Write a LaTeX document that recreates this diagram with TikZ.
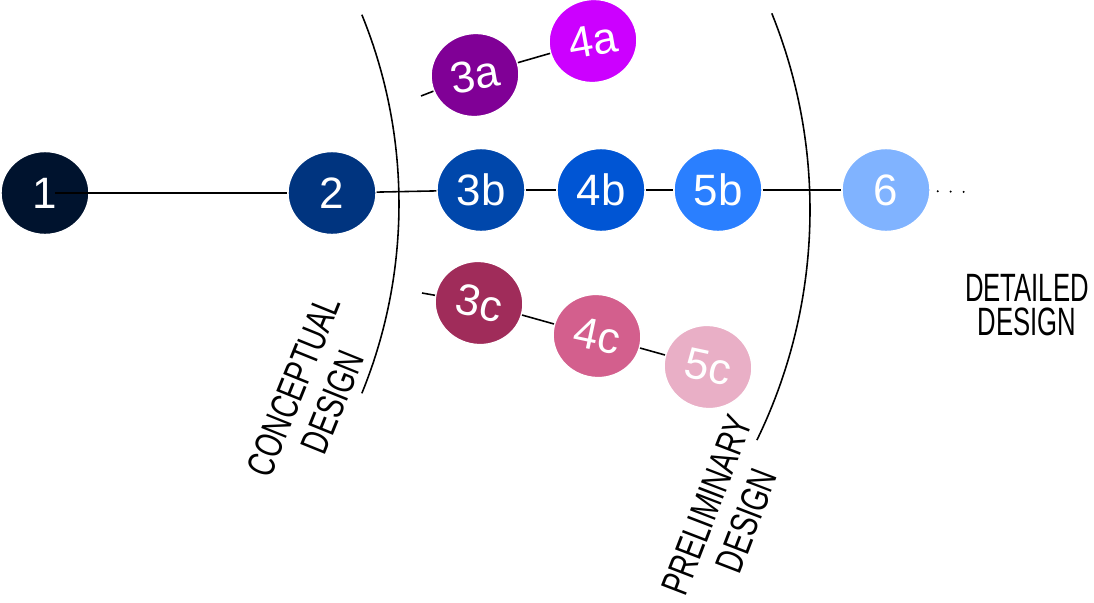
\documentclass[tikz,border=0pt]{standalone}
\usepackage{fontspec}
\setmainfont{Liberation Sans}
\usetikzlibrary{shapes.geometric}
\definecolor{s1}{RGB}{0,19,46}
\definecolor{s2}{RGB}{0,52,127}
\definecolor{s3b}{RGB}{0,71,171}
\definecolor{s4b}{RGB}{0,85,212}
\definecolor{s5b}{RGB}{42,127,255}
\definecolor{s6}{RGB}{128,179,255}
\definecolor{s3a}{RGB}{128,0,150}
\definecolor{s4a}{RGB}{204,0,255}
\definecolor{s3c}{RGB}{160,44,90}
\definecolor{s4c}{RGB}{211,95,141}
\definecolor{s5c}{RGB}{233,175,198}
\tikzset{
  stage/.style={ellipse, draw=white, line width=0.8pt, minimum width=1.76cm,
    minimum height=1.66cm, inner sep=0pt, text=white, font=\fontsize{25}{28}\selectfont},
  link/.style={draw, line width=0.9pt},
  phase/.style={align=center, font=\fontsize{22}{24}\selectfont},
  more/.style={draw, line width=1.3pt, line cap=round, dash pattern=on 0pt off 0.26cm, shorten <=0.14cm},
}
\begin{document}
\begin{tikzpicture}[x=0.02cm, y=-0.02cm]
\useasboundingbox (0,0) rectangle (1094,602);
% phase borders
\draw[line width=0.9pt] ([shift={(-22.2:501)}]-102,204) arc[start angle=-22.2, end angle=22.2, radius=501];
\draw[line width=0.9pt] ([shift={(-22:525)}]285,210) arc[start angle=-22, end angle=26, radius=525];
% stages
\node[stage, fill=s1] (1) at (45,193) {1};
\node[stage, fill=s2] (2) at (332,193) {2};
\node[stage, fill=s3b] (3b) at (481,190) {3b};
\node[stage, fill=s4b] (4b) at (601,190) {4b};
\node[stage, fill=s5b] (5b) at (718,190) {5b};
\node[stage, fill=s6] (6) at (886,190) {6};
\node[stage, fill=s3a, rotate=10] (3a) at (475,75) {3a};
\node[stage, fill=s4a, rotate=10] (4a) at (593,41) {4a};
\node[stage, fill=s3c, rotate=-12] (3c) at (479,303) {3c};
\node[stage, fill=s4c, rotate=-12] (4c) at (597,336) {4c};
\node[stage, fill=s5c, rotate=-12] (5c) at (708,367) {5c};
\coordinate (3astub) at (421,96);
\coordinate (3cstub) at (422,293);
\coordinate (dotsend) at (967,192);
% links
\path[link] ([xshift=0.2cm]1.center) -- (2);
\path[link] (2) -- (3b);
\path[link] (3b) -- (4b);
\path[link] (4b) -- (5b);
\path[link] (5b) -- (6);
\path[link] (3astub) -- (3a);
\path[link] (3a) -- (4a);
\path[link] (3cstub) -- (3c);
\path[link] (3c) -- (4c);
\path[link] (4c) -- (5c);
\path[more] (6) -- (dotsend);
% phase names
\node[phase, rotate=68, xscale=0.72] (concept) at (313,394) {CONCEPTUAL\\DESIGN};
\node[phase, rotate=69, xscale=0.72] (prelim) at (727,513) {PRELIMINARY\\DESIGN};
\node[phase, xscale=0.65, font=\fontsize{22.5}{19.5}\selectfont] (detail) at (1027,305) {DETAILED\\DESIGN};
\end{tikzpicture}
\end{document}
